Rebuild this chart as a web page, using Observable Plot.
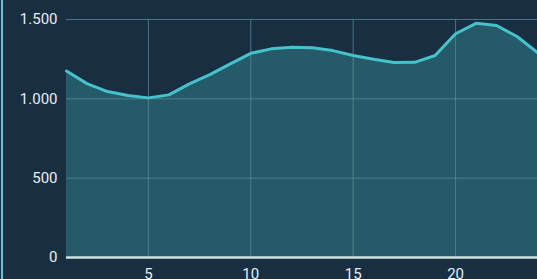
<!DOCTYPE html>
<html>
<head>
<meta charset="utf-8">
<script src="https://cdn.jsdelivr.net/npm/d3@7"></script>
<script src="https://cdn.jsdelivr.net/npm/@observablehq/plot@0.6"></script>
<style>
  html, body { margin: 0; padding: 0; background: #182f42; overflow: hidden; }
  #wrap { position: relative; width: 537px; height: 279px; }
  #edge { position: absolute; left: 1px; top: 0; width: 2px; height: 279px; background: #5cc9cc; }
</style>
</head>
<body>
<div id="wrap"><div id="edge"></div></div>
<script>
const xs = [1,2,3,4,5,6,7,8,9,10,11,12,13,14,15,16,17,18,19,20,21,22,23,24];
const values = [1175,1096,1046,1021,1006,1025,1094,1153,1220,1287,1315,1325,1322,1304,1273,1250,1229,1230,1273,1410,1476,1462,1393,1292];
const yTicks = [0,500,1000,1500];
const xTicks = [5,10,15,20];
const data = xs.map((x,i)=>({x, y: values[i]}));
const fmt = d3.formatLocale({decimal: ",", thousands: ".", grouping: [3], currency: ["", "€"]}).format(",");

const chart = Plot.plot({
  width: 537,
  height: 279,
  marginLeft: 66,
  marginRight: 0,
  marginTop: 19,
  marginBottom: 22,
  style: {background: "transparent", color: "#e6eef2", fontFamily: "Roboto, sans-serif", fontSize: "15px"},
  x: {domain: [1,24], ticks: xTicks, tickSize: 0, label: null},
  y: {domain: [0,1500], ticks: yTicks, tickSize: 0, tickFormat: fmt, label: null},
  marks: [
    Plot.areaY(data, {x: "x", y: "y", fill: "#255b69"}),
    Plot.gridX(xTicks, {stroke: "#5c8a98", strokeOpacity: 0.75, strokeWidth: 1}),
    Plot.gridY(yTicks.filter(d=>d>0), {stroke: "#5c8a98", strokeOpacity: 0.75, strokeWidth: 1}),
    Plot.lineY(data, {x: "x", y: "y", stroke: "#45c2cc", strokeWidth: 3}),
    Plot.ruleY([0], {stroke: "#cde3e3", strokeWidth: 2.5}),
    Plot.axisX(xTicks, {tickSize: 0, tickPadding: 11, fill: "#e6eef2", fontSize: 15}),
    Plot.axisY(yTicks, {tickSize: 0, tickPadding: 9, tickFormat: fmt, fill: "#e6eef2", fontSize: 15})
  ]
});
chart.style.position = "absolute";
chart.style.left = "0px";
chart.style.top = "0px";
document.getElementById("wrap").appendChild(chart);
</script>
</body>
</html>
